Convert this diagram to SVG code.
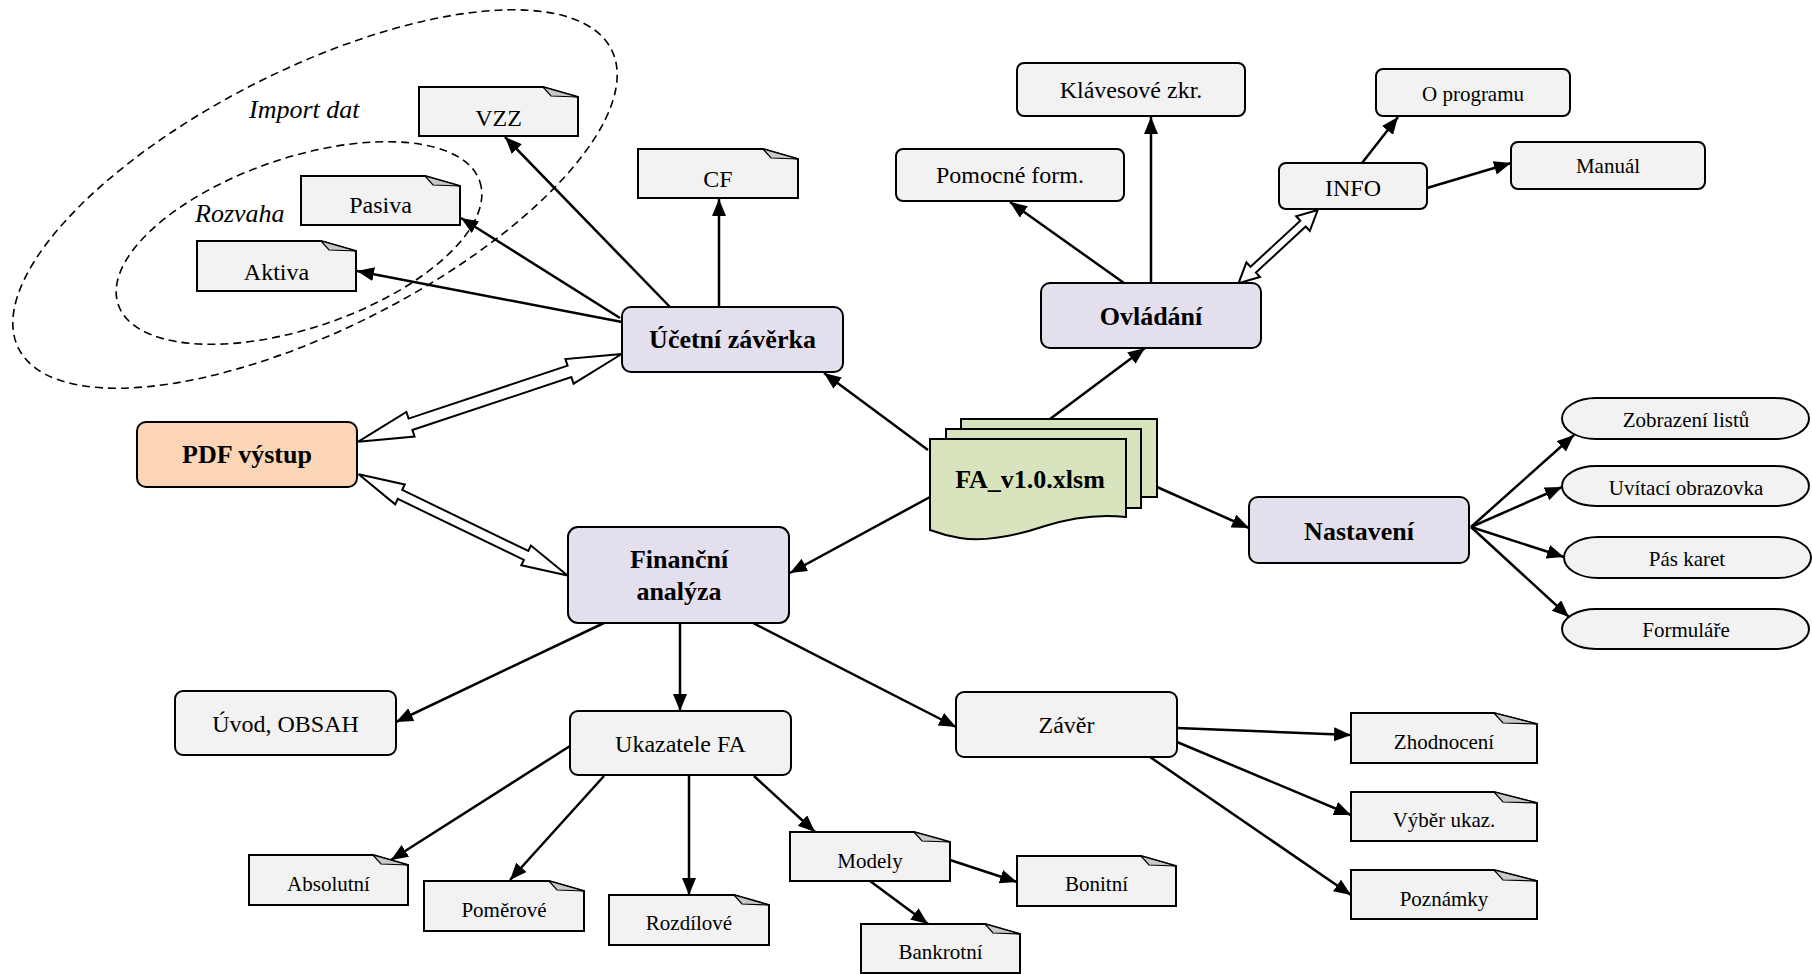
<svg xmlns="http://www.w3.org/2000/svg" width="1812" height="974" viewBox="0 0 1812 974">
<defs>
<style>
text{font-family:"Liberation Serif","Times New Roman",serif;fill:#000;text-anchor:middle}
.b{font-weight:bold;font-size:26px}
.m{font-size:24px}
.s{font-size:21px}
.it{font-style:italic;font-size:26px;text-anchor:start}
.box{fill:#f2f2f2;stroke:#000;stroke-width:2}
.pur{fill:#e4dfec;stroke:#000;stroke-width:2}
.org{fill:#fbd5b5;stroke:#000;stroke-width:2}
.grn{fill:#d7e4bd;stroke:#000;stroke-width:2}
.note{fill:#f2f2f2;stroke:#000;stroke-width:2;stroke-linejoin:miter}
.fold{fill:#c8c8c8;stroke:#000;stroke-width:1.2}
.dash{fill:none;stroke:#000;stroke-width:1.6;stroke-dasharray:8 5}
.c line{stroke:#000;stroke-width:2.5;marker-end:url(#ah)}
.dbl{fill:#fff;stroke:#000;stroke-width:2;stroke-linejoin:miter}
</style>
<marker id="ah" markerUnits="userSpaceOnUse" markerWidth="18" markerHeight="16" refX="17" refY="7" orient="auto">
<path d="M0,0 L17,7 L0,14 Z" fill="#000"/>
</marker>
</defs>
<rect width="1812" height="974" fill="#fff"/>

<g id="groups">
<ellipse class="dash" cx="315" cy="199" rx="332" ry="130" transform="rotate(-26.75 315 199)"/>
<ellipse class="dash" cx="299" cy="243" rx="191" ry="85" transform="rotate(-18.8 299 243)"/>
<text class="it" x="249" y="118">Import dat</text>
<text class="it" x="195" y="222">Rozvaha</text>
</g>

<g class="c" id="connectors">
<line x1="670" y1="307" x2="505" y2="137"/>
<line x1="620" y1="318" x2="461" y2="218"/>
<line x1="622" y1="322" x2="357" y2="271"/>
<line x1="719" y1="307" x2="719" y2="199"/>
<line x1="928" y1="450" x2="824" y2="373"/>
<line x1="1050" y1="419" x2="1145" y2="348"/>
<line x1="930" y1="497" x2="790" y2="573"/>
<line x1="1157" y1="487" x2="1249" y2="528"/>
<line x1="1124" y1="283" x2="1010" y2="202"/>
<line x1="1151" y1="283" x2="1151" y2="117"/>
<line x1="1362" y1="163" x2="1398" y2="117"/>
<line x1="1427" y1="188" x2="1511" y2="163"/>
<line x1="604" y1="623" x2="396" y2="722"/>
<line x1="680" y1="623" x2="680" y2="711"/>
<line x1="753" y1="623" x2="956" y2="727"/>
<line x1="570" y1="746" x2="391" y2="860"/>
<line x1="604" y1="776" x2="510" y2="880"/>
<line x1="689" y1="775" x2="689" y2="895"/>
<line x1="754" y1="776" x2="815" y2="832"/>
<line x1="950" y1="860" x2="1017" y2="882"/>
<line x1="870" y1="881" x2="928" y2="924"/>
<line x1="1177" y1="728" x2="1351" y2="735"/>
<line x1="1177" y1="742" x2="1351" y2="815"/>
<line x1="1150" y1="757" x2="1351" y2="895"/>
<line x1="1471" y1="527" x2="1574" y2="435"/>
<line x1="1471" y1="527" x2="1562" y2="487"/>
<line x1="1471" y1="527" x2="1564" y2="557"/>
<line x1="1471" y1="527" x2="1569" y2="617"/>
<polygon class="dbl" points="358.3,441.7 414.6,436.6 412.4,430.0 571.4,377.1 573.6,383.7 621.7,354 565.4,359.1 567.6,365.7 408.6,418.6 406.4,412.0"/>
<polygon class="dbl" points="358.6,474.3 395.2,504.3 397.8,498.9 523.9,559.9 521.3,565.3 567.5,575.5 530.9,545.5 528.3,550.9 402.2,489.9 404.8,484.5"/>
<polygon class="dbl" points="1238.5,283.3 1260.0,277.0 1255.9,272.6 1305.7,226.5 1309.8,230.9 1317.7,210 1296.2,216.3 1300.3,220.7 1250.5,266.8 1246.4,262.4"/>
</g>

<g id="n-vzz"><path class="note" d="M419,87 H543 L578,97 V136 H419 Z"/><path class="fold" d="M543,87 L551,96 L578,97 Z"/><text class="m" x="498.5" y="126">VZZ</text></g>
<g id="n-pasiva"><path class="note" d="M301,176 H425 L460,186 V225 H301 Z"/><path class="fold" d="M425,176 L433,185 L460,186 Z"/><text class="m" x="380.5" y="213">Pasiva</text></g>
<g id="n-aktiva"><path class="note" d="M197,241 H321 L356,251 V291 H197 Z"/><path class="fold" d="M321,241 L329,250 L356,251 Z"/><text class="m" x="276.5" y="280">Aktiva</text></g>
<g id="n-cf"><path class="note" d="M638,149 H763 L798,159 V198 H638 Z"/><path class="fold" d="M763,149 L771,158 L798,159 Z"/><text class="m" x="718" y="187">CF</text></g>

<g id="n-ucetni"><rect class="pur" x="622" y="307" width="221" height="65" rx="9"/><text class="b" x="732.5" y="348">Účetní závěrka</text></g>
<g id="n-ovladani"><rect class="pur" x="1041" y="283" width="220" height="65" rx="9"/><text class="b" x="1151" y="325">Ovládání</text></g>
<g id="n-nastaveni"><rect class="pur" x="1249" y="497" width="220" height="66" rx="9"/><text class="b" x="1359" y="540">Nastavení</text></g>
<g id="n-pdf"><rect class="org" x="137" y="422" width="220" height="65" rx="9"/><text class="b" x="247" y="463">PDF výstup</text></g>
<g id="n-financni"><rect class="pur" x="568" y="527" width="221" height="96" rx="10"/><text class="b" x="679" y="568">Finanční</text><text class="b" x="679" y="600">analýza</text></g>

<g id="n-fa">
<path class="grn" d="M961,419 H1157 V497 H961 Z"/>
<path class="grn" d="M946,429 H1141 V508 H946 Z"/>
<path class="grn" d="M930,439 H1126 V517 C1100,514 1070,518 1045,526 C1015,536 985,542 960,538 C948,536 938,533 930,530 Z"/>
<text class="b" x="1030" y="488">FA_v1.0.xlsm</text>
</g>

<g id="n-klavesove"><rect class="box" x="1017" y="63" width="228" height="53" rx="7"/><text class="m" x="1131" y="97.5">Klávesové zkr.</text></g>
<g id="n-pomocne"><rect class="box" x="896" y="149" width="228" height="52" rx="7"/><text class="m" x="1010" y="183">Pomocné form.</text></g>
<g id="n-info"><rect class="box" x="1279" y="163" width="148" height="46" rx="7"/><text class="m" x="1353" y="196">INFO</text></g>
<g id="n-oprogramu"><rect class="box" x="1376" y="69" width="194" height="47" rx="7"/><text class="s" x="1473" y="101">O programu</text></g>
<g id="n-manual"><rect class="box" x="1511" y="142" width="194" height="47" rx="7"/><text class="s" x="1608" y="173">Manuál</text></g>

<g id="n-zobrazeni"><rect class="box" x="1562" y="398" width="247" height="41" rx="34" ry="20.5"/><text class="s" x="1686" y="427">Zobrazení listů</text></g>
<g id="n-uvitaci"><rect class="box" x="1562" y="466" width="247" height="40" rx="34" ry="20"/><text class="s" x="1686" y="495">Uvítací obrazovka</text></g>
<g id="n-paskaret"><rect class="box" x="1564" y="537" width="247" height="41" rx="34" ry="20.5"/><text class="s" x="1687" y="565.5">Pás karet</text></g>
<g id="n-formulare"><rect class="box" x="1562" y="609" width="247" height="40" rx="34" ry="20"/><text class="s" x="1686" y="637">Formuláře</text></g>

<g id="n-uvod"><rect class="box" x="175" y="691" width="221" height="64" rx="8"/><text class="m" x="285.5" y="732">Úvod, OBSAH</text></g>
<g id="n-ukazatele"><rect class="box" x="570" y="711" width="221" height="64" rx="8"/><text class="m" x="680.5" y="752">Ukazatele FA</text></g>
<g id="n-zaver"><rect class="box" x="956" y="692" width="221" height="65" rx="8"/><text class="m" x="1066.5" y="733">Závěr</text></g>

<g id="n-absolutni"><path class="note" d="M249,855 H373 L408,865 V905 H249 Z"/><path class="fold" d="M373,855 L381,864 L408,865 Z"/><text class="s" x="328.5" y="891">Absolutní</text></g>
<g id="n-pomerove"><path class="note" d="M424,881 H549 L584,891 V931 H424 Z"/><path class="fold" d="M549,881 L557,890 L584,891 Z"/><text class="s" x="504" y="917">Poměrové</text></g>
<g id="n-rozdilove"><path class="note" d="M609,895 H734 L769,905 V945 H609 Z"/><path class="fold" d="M734,895 L742,904 L769,905 Z"/><text class="s" x="689" y="930">Rozdílové</text></g>
<g id="n-modely"><path class="note" d="M790,832 H914 L950,842 V881 H790 Z"/><path class="fold" d="M914,832 L922,841 L950,842 Z"/><text class="s" x="870" y="868">Modely</text></g>
<g id="n-bonitni"><path class="note" d="M1017,856 H1141 L1176,866 V906 H1017 Z"/><path class="fold" d="M1141,856 L1149,865 L1176,866 Z"/><text class="s" x="1096.5" y="891">Bonitní</text></g>
<g id="n-bankrotni"><path class="note" d="M861,924 H985 L1020,934 V973 H861 Z"/><path class="fold" d="M985,924 L993,933 L1020,934 Z"/><text class="s" x="940.5" y="959">Bankrotní</text></g>
<g id="n-zhodnoceni"><path class="note" d="M1351,713 H1494 L1537,724 V763 H1351 Z"/><path class="fold" d="M1494,713 L1503,723 L1537,724 Z"/><text class="s" x="1444" y="749">Zhodnocení</text></g>
<g id="n-vyber"><path class="note" d="M1351,792 H1494 L1537,803 V841 H1351 Z"/><path class="fold" d="M1494,792 L1503,802 L1537,803 Z"/><text class="s" x="1444" y="827">Výběr ukaz.</text></g>
<g id="n-poznamky"><path class="note" d="M1351,870 H1494 L1537,881 V919 H1351 Z"/><path class="fold" d="M1494,870 L1503,880 L1537,881 Z"/><text class="s" x="1444" y="906">Poznámky</text></g>
</svg>
